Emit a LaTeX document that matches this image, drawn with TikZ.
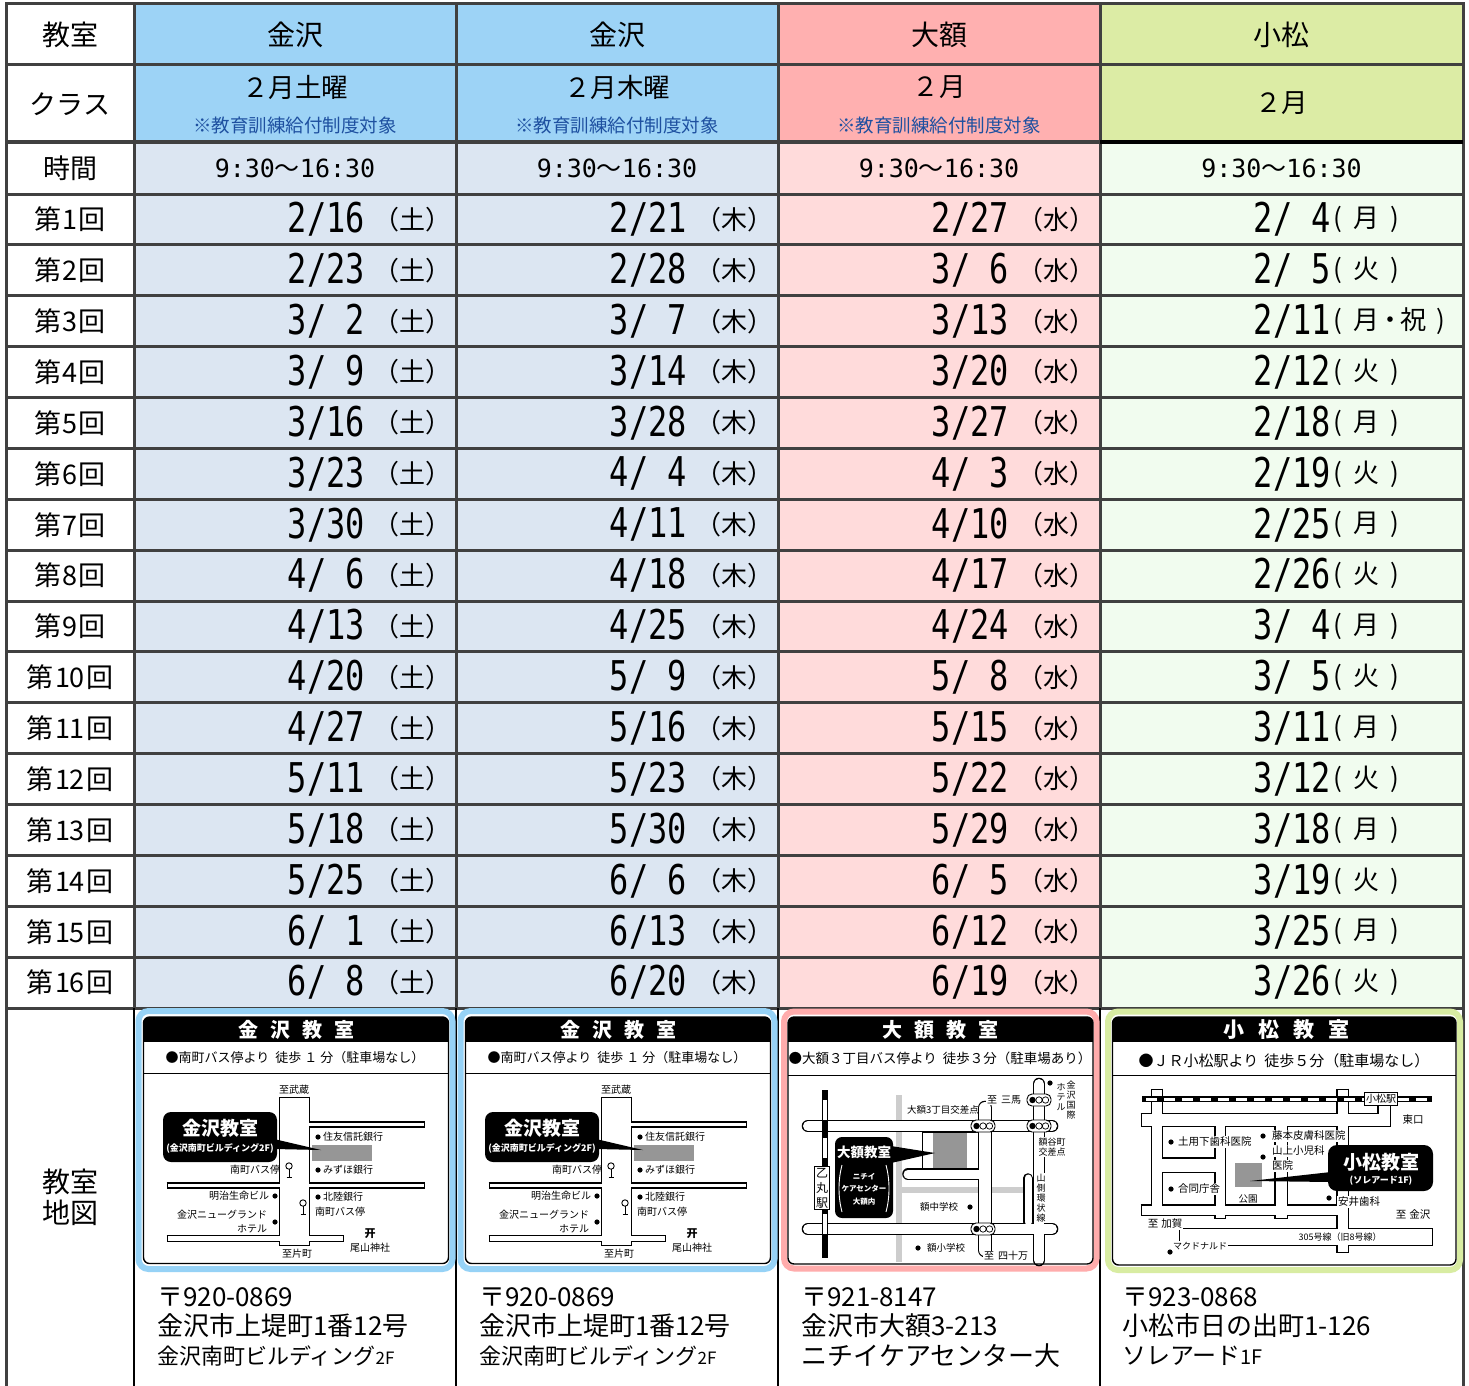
\documentclass[tikz,border=0pt]{standalone}
\usepackage{fontspec}
\setmainfont{Noto Sans CJK JP}
\newfontfamily\monof{DejaVu Sans Mono}
\usepackage{graphicx}
\newcommand\fz[1]{\fontsize{#1}{#1}\selectfont}
\newcommand\dt[1]{\scalebox{0.78}[1]{\monof\fz{41}#1}}
\newcommand\tm{{\monof\fz{25}9:30}{\fz{25}〜}{\monof\fz{25}16:30}}
\definecolor{gridc}{RGB}{64,64,64}
\definecolor{bh}{RGB}{157,211,246}
\definecolor{bb}{RGB}{220,230,242}
\definecolor{ph}{RGB}{255,176,176}
\definecolor{pb}{RGB}{255,219,219}
\definecolor{gh}{RGB}{220,236,165}
\definecolor{gb}{RGB}{241,252,239}
\definecolor{notec}{RGB}{30,80,160}
\definecolor{fb}{RGB}{150,210,246}
\definecolor{fp}{RGB}{255,172,172}
\definecolor{fg}{RGB}{216,236,162}
\definecolor{bld}{RGB}{150,150,150}
\definecolor{groad}{RGB}{205,205,205}
\tikzset{
 grid/.style={gridc, line width=3pt, line cap=rect},
 lbl/.style={inner sep=0pt, font=\fz{27}},
 hd/.style={inner sep=0pt, font=\fz{28}},
 note/.style={inner sep=0pt, font=\fz{18.5}, text=notec},
 wk/.style={inner sep=0pt, anchor=west, font=\fz{26}},
 dte/.style={inner sep=0pt, anchor=east},
 addr/.style={inner sep=0pt, anchor=west, font=\fz{26}},
 ml/.style={inner sep=0.8pt, font=\fz{10}},
 mlw/.style={ml, fill=white},
 ct/.style={inner sep=0pt, text=white, font=\bfseries\fz{#1}},
 hbar/.style={inner sep=0pt, text=white, font=\bfseries\fz{#1}},
 sub/.style={inner sep=0pt, font=\fz{#1}},
}
\newcommand\rdblack[2]{\pgfmathsetmacro\rdw{#1+2.6}\draw[black,line width=\rdw pt,shorten <=-1.3pt,shorten >=-1.3pt] #2;}
\newcommand\rdwhite[2]{\draw[white,line width=#1pt] #2;}
\newcommand\rdrblack[2]{\pgfmathsetmacro\rdw{#1+2.6}\draw[black,line width=\rdw pt,line cap=round] #2;}
\newcommand\rdrwhite[2]{\draw[white,line width=#1pt,line cap=round] #2;}
\newcommand\busstop[2]{\draw[line width=0.9pt,fill=white] (#1,#2) circle (3.2);
 \draw[line width=0.9pt] (#1,#2+3.2)--(#1,#2+11) (#1-2.5,#2+11)--(#1+2.5,#2+11);}
\newcommand\tlight[2]{\draw[line width=0.9pt,fill=white,rounded corners=5pt] (#1-12,#2-6) rectangle (#1+12,#2+6);
 \fill (#1-6.5,#2) circle (3.2); \draw[line width=0.7pt] (#1,#2) circle (3.2) (#1+6.5,#2) circle (3.2);}
\newcommand\mdot[2]{\fill (#1,#2) circle (2.6);}
% ---- Kanazawa map ----
\newcommand\kzroads{%
 \rd{29}{(294.5,1098)--(294.5,1245)}
 \rd{3.5}{(300,1124.5)--(424,1124.5)}
 \rd{3.5}{(168,1185.5)--(424,1185.5)}
 \rd{5}{(168,1238.5)--(343,1238.5)}}
\newcommand\kzmap{%
 \draw[fb, line width=6pt, rounded corners=10pt] (138.5,1011) rectangle (452.5,1269);
 \fill[white, rounded corners=6pt] (143.5,1017) rectangle (448.5,1263.5);
 \begin{scope}\clip[rounded corners=6pt] (143.5,1017) rectangle (448.5,1263.5);
 \fill (143.5,1017) rectangle (448.5,1042);\end{scope}
 \node[hbar=20] (hd) at (296,1030) {金\hspace{12pt}沢\hspace{12pt}教\hspace{12pt}室};
 \node[sub=13] (sb) at (295,1058) {●南町バス停より\hspace{6pt}徒歩\hspace{3pt}１\hspace{3pt}分（駐車場なし）};
 \draw[line width=1pt] (143.5,1073)--(448.5,1073);
 \let\rd\rdblack \kzroads
 \let\rd\rdwhite \kzroads
 \fill[bld] (312,1145) rectangle (372,1161);
 \fill[rounded corners=8pt] (163,1112) rectangle (277,1162);
 \fill (274,1139)--(321,1150)--(274,1149)--cycle;
 \node[ct=19] (c1) at (220,1128) {金沢教室};
 \node[ct=9] (c2) at (220,1148) {(金沢南町ビルディング2F)};
 \node[ml] (a1) at (294,1090) {至武蔵};
 \mdot{318}{1137} \node[ml, anchor=west] (a2) at (322,1137) {住友信託銀行};
 \mdot{318}{1170} \node[ml, anchor=west] (a3) at (322,1170) {みずほ銀行};
 \busstop{289}{1166}
 \node[ml, anchor=east] (a4) at (281,1170) {南町バス停};
 \node[ml, anchor=east] (a5) at (270,1196) {明治生命ビル}; \mdot{275}{1196}
 \node[ml, anchor=east] (a6) at (268,1215) {金沢ニューグランド};
 \node[ml, anchor=east] (a7) at (268,1229) {ホテル}; \mdot{275}{1222}
 \mdot{318}{1197} \node[ml, anchor=west] (a8) at (322,1197) {北陸銀行};
 \busstop{303}{1203}
 \node[ml, anchor=west] (a9) at (314,1212) {南町バス停};
 \node[ml, font=\bfseries\fz{11}] (a10) at (370,1234) {开};
 \node[ml] (a11) at (370,1248) {尾山神社};
 \node[ml] (a12) at (297,1254) {至片町};
 \draw[line width=1.4pt, rounded corners=6pt] (143.5,1017) rectangle (448.5,1263.5);
}
% ---- Ogaku map ----
\newcommand\ogroads{%
 \rdr{10}{(808,1126)--(1052,1126)}
 \rdr{10}{(808,1229)--(1052,1229)}
 \rdr{12}{(985,1108)--(985,1250)}
 \rdr{10}{(1039,1084)--(1039,1260)}
 \rdr{9}{(908,1174)--(980,1174)}
 \rdr{7}{(1028,1178)--(1028,1222)}}
% ---- Komatsu map ----
\newcommand\kmroads{%
 \rd{12}{(1142,1120)--(1390,1120)}
 \rd{11}{(1384,1106)--(1384,1120)}
 \rd{10}{(1157,1090)--(1157,1214)}
 \rd{10}{(1342.5,1090)--(1342.5,1252)}
 \rd{9}{(1220,1120)--(1220,1218)}
 \rd{11}{(1281,1120)--(1281,1218)}
 \rd{13}{(1157,1165)--(1220,1165)}
 \rd{9}{(1142,1210)--(1342.5,1210)}
 \rd{16}{(1180,1237)--(1432,1237)}}
\begin{document}
\begin{tikzpicture}[x=1pt,y=-1pt]
\useasboundingbox (0,0) rectangle (1469,1386);
\fill[white] (0,0) rectangle (1469,1386);
% cell fills
\fill[bh] (134,4) rectangle (778,142);
\fill[ph] (778,4) rectangle (1100,142);
\fill[gh] (1100,4) rectangle (1463,142);
\fill[bb] (134,142) rectangle (778,1008);
\fill[pb] (778,142) rectangle (1100,1008);
\fill[gb] (1100,142) rectangle (1463,1008);
% grid
\foreach \y in {4,65,142} \draw[grid] (6,\y) -- (1463,\y);
\foreach \k in {0,...,16} \draw[grid] (6,{194+\k*50.875}) -- (1463,{194+\k*50.875});
\foreach \x in {6,134,456,778,1100,1463} \draw[grid] (\x,4) -- (\x,1008);
\draw[grid] (6,1008) -- (6,1386);
\draw[grid] (1463,1008) -- (1463,1386);
\draw[black, line width=3pt] (1100,142) -- (1463,142);
\foreach \x in {134,456,778,1100} \draw[black, line width=1.3pt] (\x,1008) -- (\x,1386);
% headers
\node[hd] (h0) at (70,35) {教室};
\node[hd] (h1) at (295,35) {金沢};
\node[hd] (h2) at (617,35) {金沢};
\node[hd] (h3) at (939,35) {大額};
\node[hd] (h4) at (1281.5,35) {小松};
\node[lbl] (k0) at (70,104) {クラス};
\node[hd, font=\fz{26.5}] (k1) at (295,87) {２月土曜};
\node[note] (n1) at (295,125) {※教育訓練給付制度対象};
\node[hd, font=\fz{26.5}] (k2) at (617,87) {２月木曜};
\node[note] (n2) at (617,125) {※教育訓練給付制度対象};
\node[hd, font=\fz{26.5}] (k3) at (939,87) {２月};
\node[note] (n3) at (939,125) {※教育訓練給付制度対象};
\node[hd, font=\fz{26.5}] (k4) at (1281.5,103) {２月};
\node[lbl] (t0) at (70,168) {時間};
\node[inner sep=0pt] (t1) at (295,168) {\tm};
\node[inner sep=0pt] (t2) at (617,168) {\tm};
\node[inner sep=0pt] (t3) at (939,168) {\tm};
\node[inner sep=0pt] (t4) at (1281.5,168) {\tm};
% session labels
\foreach \i in {1,...,16}
  \node[lbl] (r\i) at (70,{194+(\i-0.5)*50.875}) {第\kern1.5pt\i\kern1.5pt回};
% dates
\foreach [count=\i] \d in {2/16,2/23,3/ 2,3/ 9,3/16,3/23,3/30,4/ 6,4/13,4/20,4/27,5/11,5/18,5/25,6/ 1,6/ 8}{
  \node[dte] (da\i) at (365,{194+(\i-0.5)*50.875}) {\dt{\d}};
  \node[wk] (wa\i) at (373,{194+(\i-0.5)*50.875}) {（土）};}
\foreach [count=\i] \d in {2/21,2/28,3/ 7,3/14,3/28,4/ 4,4/11,4/18,4/25,5/ 9,5/16,5/23,5/30,6/ 6,6/13,6/20}{
  \node[dte] (db\i) at (687,{194+(\i-0.5)*50.875}) {\dt{\d}};
  \node[wk] (wb\i) at (695,{194+(\i-0.5)*50.875}) {（木）};}
\foreach [count=\i] \d in {2/27,3/ 6,3/13,3/20,3/27,4/ 3,4/10,4/17,4/24,5/ 8,5/15,5/22,5/29,6/ 5,6/12,6/19}{
  \node[dte] (dc\i) at (1009,{194+(\i-0.5)*50.875}) {\dt{\d}};
  \node[wk] (wc\i) at (1017,{194+(\i-0.5)*50.875}) {（水）};}
\foreach [count=\i] \d in {2/ 4,2/ 5,2/11,2/12,2/18,2/19,2/25,2/26,3/ 4,3/ 5,3/11,3/12,3/18,3/19,3/25,3/26}
  \node[dte] (dd\i) at (1331,{194+(\i-0.5)*50.875}) {\dt{\d}};
\foreach [count=\i] \w in {月,火,{月\kern-3pt ・\kern-3pt 祝},火,月,火,月,火,月,火,月,火,月,火,月,火}
  \node[wk] (wd\i) at (1333,{194+(\i-0.5)*50.875}) {(\kern12pt \w\kern11pt )};
% map row label
\node[hd] (m0a) at (70,1182) {教室};
\node[hd] (m0b) at (70,1213) {地図};
% maps 1 and 2
\begin{scope}[name prefix=mA-]\kzmap\end{scope}
\begin{scope}[xshift=322pt, name prefix=mB-]\kzmap\end{scope}
% map 3 (Ogaku)
\draw[fp, line width=6pt, rounded corners=10pt] (784,1011.5) rectangle (1096.5,1268.5);
\fill[white, rounded corners=6pt] (788,1017) rectangle (1093,1264);
\begin{scope}\clip[rounded corners=6pt] (788,1017) rectangle (1093,1264);
\fill (788,1017) rectangle (1093,1042);\end{scope}
\node[hbar=20] (o-hd) at (940,1030) {大\hspace{12pt}額\hspace{12pt}教\hspace{12pt}室};
\node[sub=13.5] (o-sb) at (940,1058) {●大額３丁目バス停より\hspace{6pt}徒歩３分（駐車場あり）};
\draw[line width=1pt] (788,1075)--(1093,1075);
\draw[groad, line width=6pt] (898.5,1095)--(898.5,1262);
\draw[groad, line width=6pt] (902,1190)--(1026,1190);
\let\rdr\rdrblack \ogroads
\let\rdr\rdrwhite \ogroads
\draw[line width=1pt, fill=white] (922,1132.5) rectangle (978,1168);
\fill[bld] (933,1133) rectangle (967,1167.5);
\draw[line width=6pt] (825,1090)--(825,1258);
\draw[white, line width=3.4pt, dash pattern=on 20pt off 18pt] (825,1100)--(825,1250);
\node[draw, line width=0.9pt, fill=white, inner sep=1.5pt, align=center, font=\fontsize{12}{15}\selectfont] (o-st) at (822,1188) {乙\\丸\\駅};
\fill[rounded corners=7pt] (835,1137) rectangle (893,1218);
\fill (891,1146)--(935,1153)--(891,1163)--cycle;
\node[ct=13.5] (o-c1) at (864,1152) {大額教室};
\node[inner sep=0pt, text=white, font=\bfseries\fontsize{7.5}{12.5}\selectfont, align=center] (o-c2) at (864,1189) {ニチイ\\ケアセンター\\大額内};
\draw[white, line width=0.9pt] (842,1165) .. controls (838,1180) and (838,1197) .. (842,1212);
\draw[white, line width=0.9pt] (886,1165) .. controls (890,1180) and (890,1197) .. (886,1212);
\tlight{983}{1126} \tlight{1039}{1126} \tlight{1039}{1100} \tlight{983}{1229}
\node[ml, font=\fz{9.5}] (o-l1) at (943,1110) {大額3丁目交差点};
\node[mlw] (o-l2) at (1004,1100) {至\hspace{4pt}三馬};
\mdot{1050}{1083}
\node[inner sep=0pt, align=center, font=\fontsize{9}{10}\selectfont] (o-l3) at (1061,1097) {ホ\\テ\\ル};
\node[inner sep=0pt, align=center, font=\fontsize{9}{10}\selectfont] (o-l4) at (1071,1100) {金\\沢\\国\\際};
\node[inner sep=0.8pt, fill=white, align=center, font=\fontsize{9}{10}\selectfont] (o-l5) at (1052,1147) {額谷町\\交差点};
\node[inner sep=0.8pt, fill=white, align=center, font=\fontsize{9}{10}\selectfont] (o-l6) at (1041,1198) {山\\側\\環\\状\\線};
\node[ml, font=\fz{9.5}] (o-l7) at (939,1207) {額中学校}; \mdot{970}{1207}
\mdot{918}{1248} \node[ml, font=\fz{9.5}] (o-l8) at (946,1248) {額小学校};
\node[mlw] (o-l9) at (1006,1256) {至\hspace{4pt}四十万};
\draw[line width=1.4pt, rounded corners=6pt] (788,1017) rectangle (1093,1264);
% map 4 (Komatsu)
\draw[fg, line width=6pt, rounded corners=10pt] (1108,1011.5) rectangle (1460,1270);
\fill[white, rounded corners=6pt] (1112.5,1017) rectangle (1456,1265);
\begin{scope}\clip[rounded corners=6pt] (1112.5,1017) rectangle (1456,1265);
\fill (1112.5,1017) rectangle (1456,1042);\end{scope}
\node[hbar=21] (k-hd) at (1286,1030) {小\hspace{14pt}松\hspace{14pt}教\hspace{14pt}室};
\node[sub=15] (k-sb) at (1284,1061) {●ＪＲ小松駅より\hspace{6pt}徒歩５分（駐車場なし）};
\draw[line width=1pt] (1112.5,1075)--(1456,1075);
\let\rd\rdblack \kmroads
\let\rd\rdwhite \kmroads
\draw[line width=6pt] (1142,1099)--(1432,1099);
\draw[white, line width=3pt, dash pattern=on 11pt off 7pt] (1146,1099)--(1428,1099);
\node[draw, line width=0.9pt, fill=white, inner sep=1.5pt, font=\fz{10}] (k-st) at (1381,1099) {小松駅};
\fill[bld] (1235,1163) rectangle (1262,1187);
\node[ml, font=\fz{9.5}] (k-l1) at (1248,1199) {公園};
\mdot{1171}{1142} \node[mlw, anchor=west, font=\fz{10.5}] (k-l2) at (1177,1142) {土用下歯科医院};
\mdot{1263}{1136} \node[mlw, anchor=west, font=\fz{10.5}] (k-l3) at (1271,1136) {藤本皮膚科医院};
\mdot{1263}{1157} \node[mlw, anchor=west, font=\fz{10.5}] (k-l4) at (1271,1151) {山上小児科};
\node[mlw, anchor=west, font=\fz{10.5}] (k-l5) at (1271,1166) {医院};
\mdot{1171}{1189} \node[mlw, anchor=west, font=\fz{10.5}] (k-l6) at (1177,1189) {合同庁舎};
\mdot{1329}{1198} \node[mlw, anchor=west, font=\fz{10.5}] (k-l7) at (1337,1202) {安井歯科};
\node[ml, font=\fz{10.5}] (k-l8) at (1413,1120) {東口};
\node[mlw, font=\fz{10.5}] (k-l9) at (1165,1224) {至\hspace{3pt}加賀};
\node[ml, font=\fz{10.5}] (k-l10) at (1413,1215) {至\hspace{3pt}金沢};
\node[ml, font=\fz{9}] (k-l11) at (1340,1237) {305号線（旧8号線）};
\mdot{1170}{1252} \node[mlw, font=\fz{9}] (k-l12) at (1200,1246) {マクドナルド};
\fill[rounded corners=9pt] (1328,1145) rectangle (1433,1191);
\fill (1331,1172)--(1250,1181)--(1331,1182)--cycle;
\node[ct=19] (k-c1) at (1381,1162) {小松教室};
\node[ct=9] (k-c2) at (1381,1181) {(ソレアード1F)};
\draw[line width=1.4pt, rounded corners=6pt] (1112.5,1017) rectangle (1456,1265);
% addresses
\node[addr] (ad1a) at (157,1297) {〒920-0869};
\node[addr] (ad1b) at (157,1326) {金沢市上堤町1番12号};
\node[addr, font=\fz{22}] (ad1c) at (157,1356) {金沢南町ビルディング{\fz{17}2F}};
\node[addr] (ad2a) at (479,1297) {〒920-0869};
\node[addr] (ad2b) at (479,1326) {金沢市上堤町1番12号};
\node[addr, font=\fz{22}] (ad2c) at (479,1356) {金沢南町ビルディング{\fz{17}2F}};
\node[addr] (ad3a) at (801,1297) {〒921-8147};
\node[addr] (ad3b) at (801,1326) {金沢市大額3-213};
\node[addr] (ad3c) at (801,1356) {ニチイケアセンター大};
\node[addr] (ad4a) at (1122,1297) {〒923-0868};
\node[addr] (ad4b) at (1122,1326) {小松市日の出町1-126};
\node[addr, font=\fz{24}] (ad4c) at (1122,1356) {ソレアード{\fz{20}1F}};
\end{tikzpicture}
\end{document}
